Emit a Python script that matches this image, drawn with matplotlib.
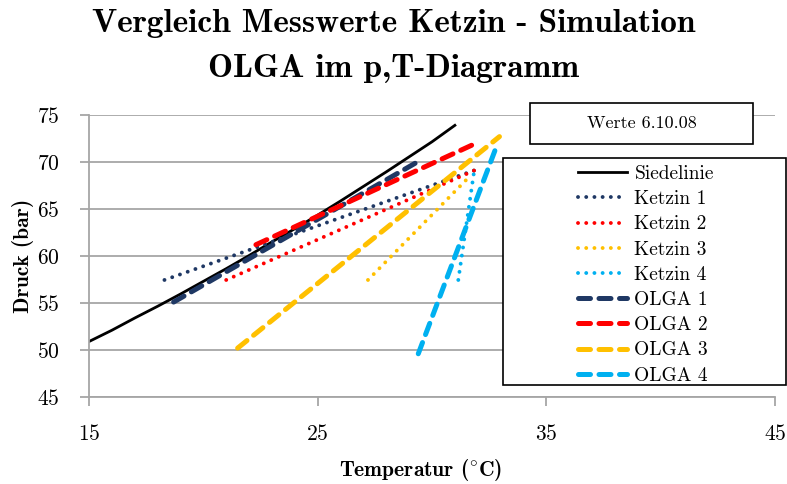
import matplotlib
matplotlib.use("Agg")
import matplotlib.pyplot as plt
from matplotlib.patches import Rectangle

plt.rcParams["font.family"] = ["cmr10", "DejaVu Serif"]
plt.rcParams["mathtext.fontset"] = "cm"
plt.rcParams["axes.formatter.use_mathtext"] = True

# saturation line of CO2
t_siede = [15, 16, 17, 18, 19, 20, 21, 22, 23, 24, 25, 26, 27, 28, 29, 30, 31]
p_siede = [50.9, 52.1, 53.4, 54.65, 55.95, 57.3, 58.65, 60.05, 61.5, 62.9,
           64.35, 65.85, 67.4, 68.95, 70.55, 72.15, 73.9]

# measurements Ketzin
t_k1 = [18.3, 31.9]
p_k1 = [57.45, 69.15]
t_k2 = [21.0, 31.9]
p_k2 = [57.45, 69.15]
t_k3 = [27.2, 31.7]
p_k3 = [57.45, 68.6]
t_k4 = [31.15, 31.85]
p_k4 = [57.45, 69.15]

# simulation OLGA
t_o1 = [18.7, 29.5]
p_o1 = [55.1, 70.2]
t_o2 = [22.3, 31.75]
p_o2 = [61.2, 71.8]
t_o3 = [21.5, 32.95]
p_o3 = [50.2, 72.7]
t_o4 = [29.4, 32.75]
p_o4 = [49.6, 71.2]

navy = "#1F3864"
red = "#FF0000"
yellow = "#FFC000"
blue = "#00B0F0"

fig = plt.figure(figsize=(7.87, 4.84), dpi=100)
ax = fig.add_axes([89 / 787, 1 - 397 / 484, 686 / 787, 282 / 484])

dot = dict(lw=2.8, dashes=(0.01, 2.1), dash_capstyle="round")
dash = dict(lw=3.6, dashes=(2.4, 1.7), dash_capstyle="round")

h = []
h += ax.plot(t_siede, p_siede, color="black", lw=2.0, label="Siedelinie")
h += ax.plot(t_k1, p_k1, color=navy, label="Ketzin 1", **dot)
h += ax.plot(t_k2, p_k2, color=red, label="Ketzin 2", **dot)
h += ax.plot(t_k3, p_k3, color=yellow, label="Ketzin 3", **dot)
h += ax.plot(t_k4, p_k4, color=blue, label="Ketzin 4", **dot)
h += ax.plot(t_o1, p_o1, color=navy, label="OLGA 1", **dash)
h += ax.plot(t_o2, p_o2, color=red, label="OLGA 2", **dash)
h += ax.plot(t_o3, p_o3, color=yellow, label="OLGA 3", **dash)
h += ax.plot(t_o4, p_o4, color=blue, label="OLGA 4", **dash)

ax.set_xlim(15, 45)
ax.set_ylim(45, 75)
ax.set_xticks([15, 25, 35, 45])
ax.set_yticks([45, 50, 55, 60, 65, 70, 75])
ax.yaxis.grid(True, color="#A6A6A6", lw=1.3)
ax.set_axisbelow(True)
for s in ["top", "right"]:
    ax.spines[s].set_visible(False)
for s in ["left", "bottom"]:
    ax.spines[s].set_color("#A6A6A6")
    ax.spines[s].set_linewidth(1.3)
ax.tick_params(axis="both", colors="#A6A6A6", labelcolor="black", labelsize=15.5,
               length=6.5, width=1.3)
ax.tick_params(axis="x", pad=13)
ax.tick_params(axis="y", pad=14.5)

bold = ["cmb10", "DejaVu Serif"]
fig.text(421 / 787, 1 - 476 / 484, r"Temperatur ($^{\circ}$C)", ha="center",
         va="baseline", fontsize=15.5, family=bold)
fig.text(23 / 787, 1 - 256 / 484, "Druck (bar)", ha="center", va="center",
         rotation=90, fontsize=15.5, family=bold)

fig.text(0.5, 1 - 31.7 / 484, "Vergleich Messwerte Ketzin - Simulation",
         ha="center", va="baseline", fontsize=24, family=bold)
fig.text(0.5, 1 - 76.7 / 484, "OLGA im p,T-Diagramm",
         ha="center", va="baseline", fontsize=24, family=bold)

# box with date
fig.patches.append(Rectangle((530 / 787, 1 - 144 / 484), 223 / 787, 41 / 484,
                             transform=fig.transFigure, facecolor="white",
                             edgecolor="black", lw=1.2, zorder=3))
fig.text(641.5 / 787, 1 - 123.5 / 484, "Werte 6.10.08", ha="center", va="center",
         fontsize=13, zorder=4)

# legend frame
fig.patches.append(Rectangle((503 / 787, 1 - 385 / 484), 283 / 787, 227 / 484,
                             transform=fig.transFigure, facecolor="white",
                             edgecolor="black", lw=1.2, zorder=3))
leg = fig.legend(handles=h, loc="upper left", bbox_to_anchor=(578 / 787, 1 - 165 / 484),
                 frameon=False, fontsize=14, handlelength=2.5, handletextpad=0.4,
                 borderpad=0, borderaxespad=0, labelspacing=0.375)
leg.set_zorder(5)

fig.savefig("out.png", dpi=100)
